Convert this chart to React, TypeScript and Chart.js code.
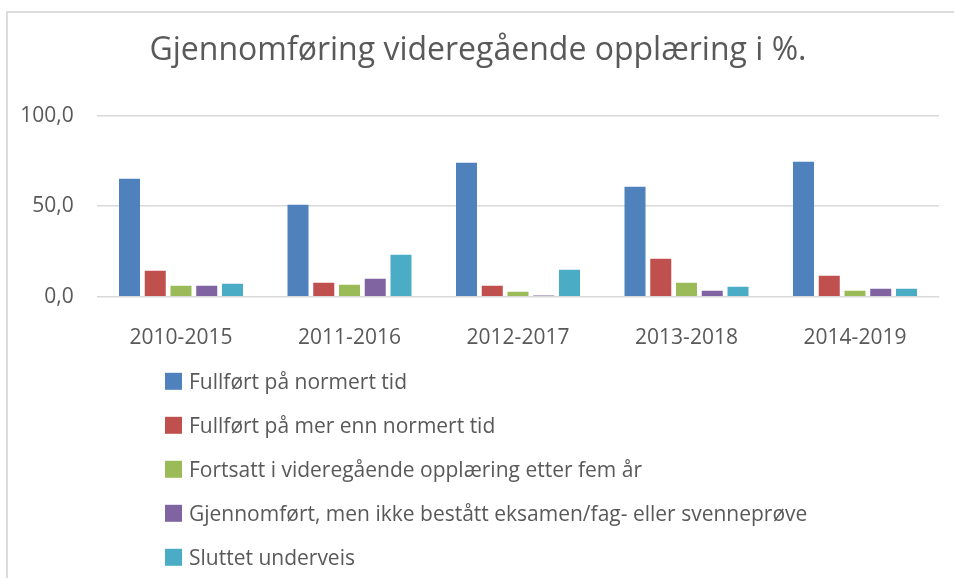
import React, { useEffect, useRef } from "react";
import { Chart, registerables } from "chart.js";

Chart.register(...registerables);

const title = "Gjennomføring videregående opplæring i %.";
const categories = ["2010-2015", "2011-2016", "2012-2017", "2013-2018", "2014-2019"];
const seriesNames = [
  "Fullført på normert tid",
  "Fullført på mer enn normert tid",
  "Fortsatt i videregående opplæring etter fem år",
  "Gjennomført, men ikke bestått eksamen/fag- eller svenneprøve",
  "Sluttet underveis",
];
const normertTid = [65.2, 50.8, 74.0, 60.8, 74.6];
const merEnnNormert = [14.4, 7.7, 6.1, 21.0, 11.6];
const fortsatt = [6.1, 6.6, 2.8, 7.7, 3.3];
const ikkeBestatt = [6.1, 9.9, 0.6, 3.3, 4.4];
const sluttet = [7.2, 23.2, 14.9, 5.5, 4.4];
const seriesValues = [normertTid, merEnnNormert, fortsatt, ikkeBestatt, sluttet];
const colors = ["#4f81bd", "#c0504d", "#9bbb59", "#8064a2", "#4bacc6"];
const yTicks = [0, 50, 100];

const FONT = "'Open Sans', sans-serif";
const TEXT = "#595959";

const legendPlugin = {
  id: "stackedLegend",
  afterDraw(chart: any) {
    const ctx = chart.ctx;
    ctx.save();
    ctx.font = `21px ${FONT}`;
    ctx.textBaseline = "alphabetic";
    ctx.textAlign = "left";
    chart.data.datasets.forEach((ds: any, i: number) => {
      const rowY = 389.3 + 44 * i;
      ctx.fillStyle = ds.backgroundColor;
      ctx.fillRect(165, rowY - 16.5, 17, 17);
      ctx.fillStyle = TEXT;
      ctx.fillText(ds.label, 189, rowY);
    });
    ctx.restore();
  },
};

export default function App() {
  const ref = useRef<HTMLCanvasElement>(null);
  useEffect(() => {
    if (!ref.current) return;
    const chart = new Chart(ref.current, {
      type: "bar",
      data: {
        labels: categories,
        datasets: seriesNames.map((name, i) => ({
          label: name,
          data: seriesValues[i],
          backgroundColor: colors[i],
          borderWidth: 0,
          categoryPercentage: 0.764,
          barPercentage: 0.816,
        })),
      },
      options: {
        animation: false,
        responsive: false,
        devicePixelRatio: 1,
        layout: { padding: { left: 16.75, right: 14.75, top: 0, bottom: 0 } },
        plugins: {
          legend: { display: false },
          tooltip: { enabled: false },
          title: {
            display: true,
            text: title,
            color: TEXT,
            font: { family: FONT, size: 32, weight: "normal", lineHeight: 1.2 },
            padding: { top: 32, bottom: 45.3 },
          },
        },
        scales: {
          x: {
            grid: { display: false },
            border: { display: false },
            ticks: {
              color: TEXT,
              font: { family: FONT, size: 21 },
              padding: 21,
              maxRotation: 0,
            },
            afterFit: (s: any) => {
              s.height = 578 - 296.7;
            },
          },
          y: {
            min: 0,
            max: 100,
            grid: { color: "#d9d9d9", lineWidth: 1.6, drawTicks: false },
            border: { display: false },
            afterBuildTicks: (s: any) => {
              s.ticks = yTicks.map((v) => ({ value: v }));
            },
            ticks: {
              color: TEXT,
              font: { family: FONT, size: 21 },
              padding: 23,
              callback: (v: any) => Number(v).toFixed(1).replace(".", ","),
            },
            afterFit: (s: any) => {
              s.width = 80;
            },
          },
        },
      },
      plugins: [legendPlugin],
    });
    return () => chart.destroy();
  }, []);

  return (
    <div
      style={{
        position: "absolute",
        left: 0,
        top: 0,
        width: 954,
        height: 578,
        overflow: "hidden",
        background: "#ffffff",
      }}
    >
      <div
        style={{
          position: "absolute",
          left: 6,
          top: 11,
          width: 2000,
          height: 2000,
          border: "2px solid #dcdcdc",
          boxSizing: "border-box",
        }}
      />
      <canvas
        ref={ref}
        width={954}
        height={578}
        style={{ position: "absolute", left: 0, top: 0, width: 954, height: 578 }}
      />
    </div>
  );
}
